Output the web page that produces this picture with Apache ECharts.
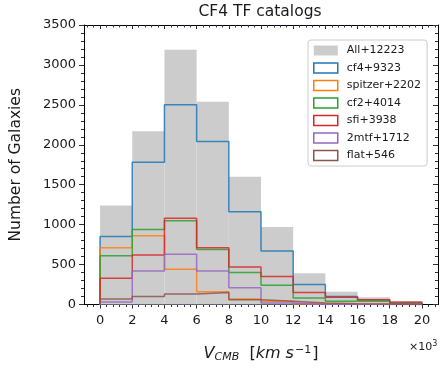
<!DOCTYPE html>
<html>
<head>
<meta charset="utf-8">
<title>CF4 TF catalogs</title>
<script src="https://cdn.jsdelivr.net/npm/echarts@6/dist/echarts.min.js"></script>
<style>
  html, body { margin: 0; padding: 0; background: #fff; }
  #chart { width: 441px; height: 368px; }
</style>
</head>
<body>
<div id="chart"></div>
<script>
// Histogram bin edges, in units of 10^3 km/s
const binEdges = [0, 2, 4, 6, 8, 10, 12, 14, 16, 18, 20];

// Galaxy counts per velocity bin
const allCounts     = [1240, 2170, 3190, 2540, 1600, 970, 390, 160, 90, 30];
const cf4Counts     = [850, 1780, 2500, 2040, 1160, 670, 250, 100, 60, 20];
const spitzerCounts = [710, 860, 440, 160, 70, 40, 10, 5, 0, 0];
const cf2Counts     = [610, 940, 1050, 690, 400, 240, 80, 40, 40, 10];
const sfiCounts     = [330, 620, 1080, 710, 470, 350, 150, 90, 60, 30];
const tmtfCounts    = [30, 420, 630, 420, 210, 20, 0, 0, 0, 0];
const flatCounts    = [70, 100, 130, 150, 60, 40, 20, 10, 5, 0];

const seriesNames = ['All+12223', 'cf4+9323', 'spitzer+2202', 'cf2+4014', 'sfi+3938', '2mtf+1712', 'flat+546'];

// Axis ticks
const xMajorTicks = [0, 2, 4, 6, 8, 10, 12, 14, 16, 18, 20];
const xMinorTicks = [];
for (let i = -2; i <= 52; i++) {
  const v = +(i * 0.4).toFixed(1);
  if (i % 5 !== 0) xMinorTicks.push(v);
}

const stepColors = ['#1f77b4', '#ff7f0e', '#2ca02c', '#d62728', '#9467bd', '#8c564b'];
const stepCounts = [cf4Counts, spitzerCounts, cf2Counts, sfiCounts, tmtfCounts, flatCounts];

const tickColor = '#2b2b55';
const fontFamily = 'DejaVu Sans';

// Outline of a step histogram: up from zero, across each bin, back to zero
function stepPoints(counts) {
  const pts = [[binEdges[0], 0]];
  counts.forEach(function (v, i) {
    pts.push([binEdges[i], v]);
    pts.push([binEdges[i + 1], v]);
  });
  pts.push([binEdges[binEdges.length - 1], 0]);
  return pts;
}

const barData = allCounts.map(function (v, i) {
  return [binEdges[i], binEdges[i + 1], v];
});

function xAxisDef(position, values, opts) {
  return Object.assign({
    type: 'value', gridIndex: 0, position: position, min: -1, max: 21,
    axisLine: { show: false, onZero: false },
    axisTick: { show: true, customValues: values, length: 4, lineStyle: { color: tickColor, width: 1 } },
    axisLabel: { show: false },
    splitLine: { show: false }
  }, opts || {});
}

const chart = echarts.init(document.getElementById('chart'), null, { renderer: 'canvas' });

const option = {
  animation: false,
  backgroundColor: '#ffffff',
  textStyle: { fontFamily: fontFamily },
  title: {
    text: 'CF4 TF catalogs',
    left: 260, top: 4, textAlign: 'center', padding: 0,
    textStyle: { fontFamily: fontFamily, fontSize: 15.5, fontWeight: 'normal', color: '#1a1a1a' }
  },
  grid: { left: 82, right: 3, top: 25, bottom: 56, containLabel: false },
  legend: {
    orient: 'vertical',
    left: 308, top: 40,
    padding: [4, 6, 4, 5],
    itemWidth: 24, itemHeight: 10, itemGap: 4.5,
    backgroundColor: 'rgba(255,255,255,0.85)',
    borderColor: '#cccccc', borderWidth: 1, borderRadius: 3,
    selectedMode: false,
    textStyle: { fontFamily: fontFamily, fontSize: 11, lineHeight: 13, color: '#1a1a1a', padding: [0, 0, 0, 4] },
    data: [
      { name: seriesNames[0], icon: 'rect', itemStyle: { color: '#cccccc', borderWidth: 0 } }
    ].concat(stepColors.map(function (c, i) {
      return { name: seriesNames[i + 1], icon: 'rect',
               itemStyle: { color: 'rgba(255,255,255,0)', borderColor: c, borderWidth: 1.5 } };
    }))
  },
  xAxis: [
    // bottom spine with major ticks and labels
    xAxisDef('bottom', xMajorTicks, {
      axisLine: { show: true, onZero: false, lineStyle: { color: '#000', width: 1 } },
      axisLabel: { show: true, customValues: xMajorTicks, margin: 10, fontSize: 13, color: '#1a1a1a',
                   fontFamily: fontFamily, formatter: function (v) { return String(v); } },
      name: '{v|V}{s|CMB}{t|  [}{i|km s}{p|−1}{t|]}',
      nameLocation: 'middle', nameGap: 40,
      nameTextStyle: {
        rich: {
          v: { fontFamily: fontFamily, fontStyle: 'italic', fontSize: 16, color: '#1a1a1a' },
          s: { fontFamily: fontFamily, fontStyle: 'italic', fontSize: 11, color: '#1a1a1a', padding: [7, 0, 0, 0] },
          t: { fontFamily: fontFamily, fontSize: 16, color: '#1a1a1a' },
          i: { fontFamily: fontFamily, fontStyle: 'italic', fontSize: 16, color: '#1a1a1a' },
          p: { fontFamily: fontFamily, fontSize: 11, color: '#1a1a1a', padding: [0, 1, 8, 1] }
        }
      }
    }),
    // bottom minor ticks
    xAxisDef('bottom', xMinorTicks, { axisTick: { show: true, customValues: xMinorTicks, length: 2.5, lineStyle: { color: tickColor } } }),
    // top spine with inward ticks
    xAxisDef('top', xMajorTicks, {
      axisLine: { show: true, onZero: false, lineStyle: { color: '#000', width: 1 } },
      axisTick: { show: true, inside: true, customValues: xMajorTicks, length: 4, lineStyle: { color: tickColor } }
    }),
    xAxisDef('top', xMinorTicks, { axisTick: { show: true, inside: true, customValues: xMinorTicks, length: 2.5, lineStyle: { color: tickColor } } })
  ],
  yAxis: [
    {
      type: 'value', gridIndex: 0, position: 'left', min: 0, max: 3500, interval: 500,
      axisLine: { show: true, onZero: false, lineStyle: { color: '#000', width: 1 } },
      axisTick: { show: true, length: 5, lineStyle: { color: tickColor } },
      minorTick: { show: true, splitNumber: 5, length: 3, lineStyle: { color: tickColor } },
      axisLabel: { show: true, margin: 8, fontSize: 13, color: '#1a1a1a', fontFamily: fontFamily,
                   formatter: function (v) { return String(v); } },
      splitLine: { show: false },
      minorSplitLine: { show: false },
      name: 'Number of Galaxies', nameLocation: 'middle', nameGap: 60,
      nameTextStyle: { fontFamily: fontFamily, fontSize: 15.5, color: '#1a1a1a' }
    },
    {
      type: 'value', gridIndex: 0, position: 'right', min: 0, max: 3500, interval: 500,
      axisLine: { show: true, onZero: false, lineStyle: { color: '#000', width: 1 } },
      axisTick: { show: true, inside: true, length: 5, lineStyle: { color: tickColor } },
      minorTick: { show: true, splitNumber: 5, length: 3, lineStyle: { color: tickColor } },
      axisLabel: { show: false },
      splitLine: { show: false }
    }
  ],
  graphic: [
    {
      type: 'text', left: 409, top: 340, silent: true,
      style: {
        text: '{a|×10}{b|3}',
        rich: {
          a: { fontFamily: fontFamily, fontSize: 11, fill: '#1a1a1a' },
          b: { fontFamily: fontFamily, fontSize: 8, fill: '#1a1a1a', padding: [0, 0, 6, 0] }
        }
      }
    }
  ],
  series: [
    {
      name: seriesNames[0],
      type: 'custom',
      xAxisIndex: 0, yAxisIndex: 0,
      data: barData,
      encode: { x: [0, 1], y: 2 },
      itemStyle: { color: '#cccccc' },
      renderItem: function (params, api) {
        const topLeft = api.coord([api.value(0), api.value(2)]);
        const bottomRight = api.coord([api.value(1), 0]);
        return {
          type: 'rect',
          shape: { x: topLeft[0], y: topLeft[1], width: bottomRight[0] - topLeft[0], height: bottomRight[1] - topLeft[1] },
          style: { fill: '#cccccc' }
        };
      },
      z: 1
    }
  ].concat(stepCounts.map(function (counts, i) {
    return {
      name: seriesNames[i + 1],
      type: 'line',
      xAxisIndex: 0, yAxisIndex: 0,
      data: stepPoints(counts),
      showSymbol: false,
      symbol: 'none',
      color: stepColors[i],
      lineStyle: { color: stepColors[i], width: 1.5, opacity: 0.85 },
      emphasis: { disabled: true },
      z: 2 + i
    };
  }))
};

chart.setOption(option);
</script>
</body>
</html>
